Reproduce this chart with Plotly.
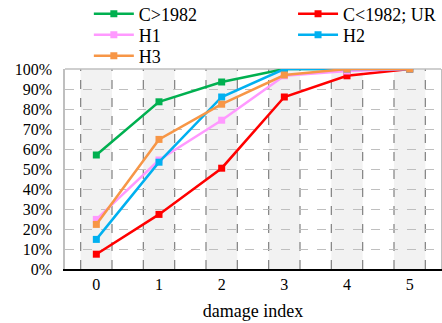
import plotly.graph_objects as go

categories = [0, 1, 2, 3, 4, 5]
series_names = ["C>1982", "C<1982; UR", "H1", "H2", "H3"]
c_post1982 = [57.0, 83.6, 93.5, 100, 100, 100]
c_pre1982_ur = [7.4, 27.3, 50.4, 86.0, 96.6, 100]
h1 = [24.8, 54.5, 74.4, 96.6, 99.0, 100]
h2 = [14.8, 53.4, 86.0, 100, 100, 100]
h3 = [22.3, 64.8, 82.4, 97.0, 100, 100]
y_ticks = [0, 10, 20, 30, 40, 50, 60, 70, 80, 90, 100]
y_tick_labels = [f"{v}%" for v in y_ticks]

colors = ["#00B050", "#FF0000", "#FF99FF", "#00B0F0", "#F79646"]
values = [c_post1982, c_pre1982_ur, h1, h2, h3]
legend_ids = ["legend", "legend2", "legend3", "legend4", "legend5"]
# legend placement (container fractions): column x, row centre y
legend_pos = [(0.201, 1 - 14 / 323), (0.663, 1 - 14 / 323), (0.201, 1 - 35 / 323),
              (0.663, 1 - 35 / 323), (0.201, 1 - 56 / 323)]

font = "Liberation Serif"

fig = go.Figure()
for name, vals, col, lg in zip(series_names, values, colors, legend_ids):
    fig.add_trace(go.Scatter(
        x=categories, y=vals, name=name, mode="lines+markers",
        line=dict(color=col, width=2.5),
        marker=dict(symbol="square", size=7, color=col),
        legend=lg,
    ))

shapes = []
for k in categories:
    shapes.append(dict(type="rect", xref="x", yref="paper", x0=k - 0.25, x1=k + 0.25,
                       y0=0, y1=1, fillcolor="#F2F2F2", line=dict(width=0), layer="below"))
    for xv in (k - 0.25, k + 0.25):
        shapes.append(dict(type="line", xref="x", yref="paper", x0=xv, x1=xv, y0=0, y1=1,
                           line=dict(color="#808080", width=1.2, dash="dash"), layer="between"))
shapes.append(dict(type="line", xref="paper", yref="paper", x0=0, x1=1, y0=1, y1=1,
                   line=dict(color="#BFBFBF", width=1.5), layer="between"))

legends = {}
for lg, (lx, ly) in zip(legend_ids, legend_pos):
    legends[lg] = dict(orientation="v", xref="container", yref="container",
                       x=lx, y=ly, xanchor="left", yanchor="middle", itemwidth=40,
                       font=dict(family=font, size=18), bgcolor="rgba(0,0,0,0)")

fig.update_layout(
    width=442, height=323,
    margin=dict(l=65, r=1, t=69, b=54, autoexpand=False),
    paper_bgcolor="white", plot_bgcolor="white",
    font=dict(family=font, size=16, color="black"),
    shapes=shapes,
    showlegend=True,
    **legends,
    xaxis=dict(range=[-0.5, 5.5], tickvals=categories, ticktext=[str(c) for c in categories],
               showgrid=False, zeroline=False, showline=True, linecolor="black", linewidth=1.5,
               ticks="", title=dict(text="damage index", font=dict(family=font, size=18), standoff=12),
               tickfont=dict(family=font, size=16)),
    yaxis=dict(range=[0, 100], tickvals=y_ticks, ticktext=y_tick_labels,
               showgrid=True, gridcolor="#BFBFBF", griddash="dash", gridwidth=1.2,
               zeroline=False, showline=True, linecolor="#BFBFBF", linewidth=1.5, mirror=True,
               ticks="", ticklabelstandoff=8, tickfont=dict(family=font, size=16)),
)

fig.write_html("out.html")
